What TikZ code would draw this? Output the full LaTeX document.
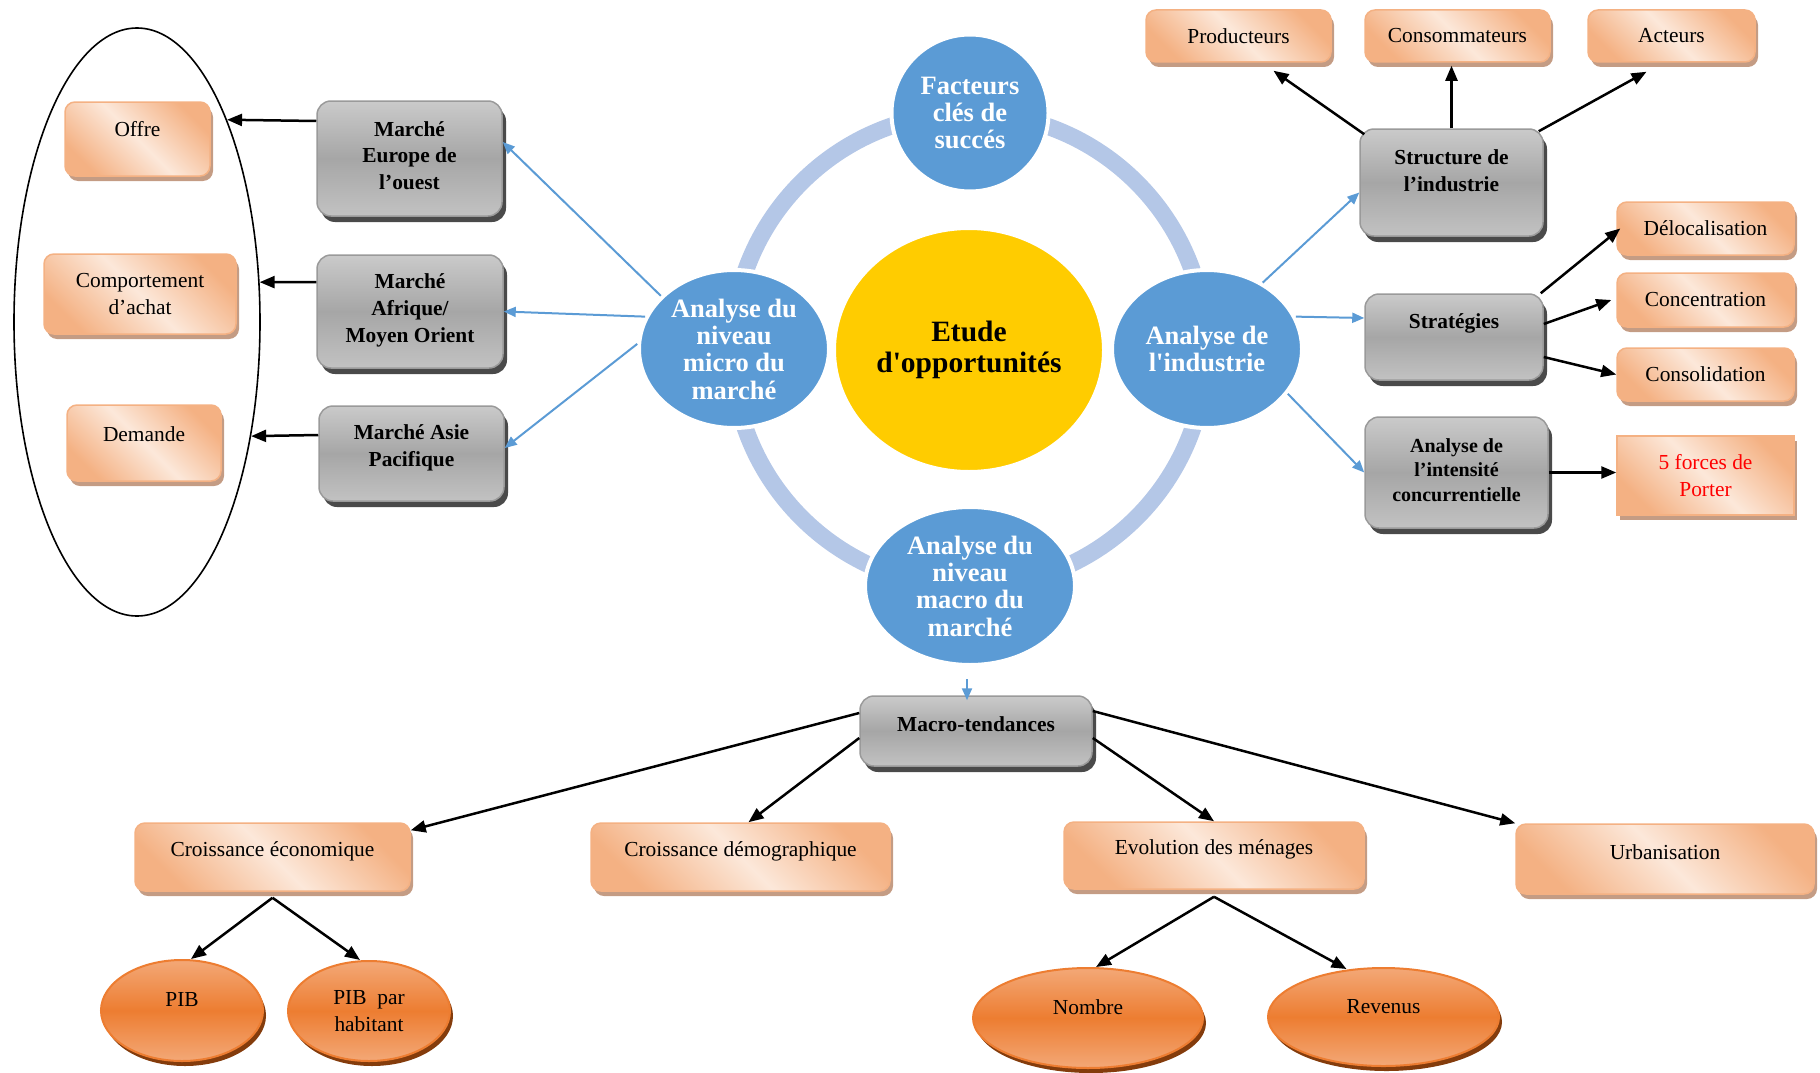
\documentclass[tikz,border=0pt]{standalone}
\usepackage{fontspec}
\setmainfont{Liberation Serif}
\usetikzlibrary{arrows.meta,shapes.geometric,shadows,calc}
\definecolor{oD}{HTML}{F4B183}
\definecolor{oL}{HTML}{FCE8DA}
\definecolor{oS}{HTML}{C49C84}
\definecolor{gT}{HTML}{CACACA}
\definecolor{gM}{HTML}{A6A6A6}
\definecolor{gBd}{HTML}{9A9A9A}
\definecolor{gS}{HTML}{4A4A4A}
\definecolor{bC}{HTML}{5B9BD5}
\definecolor{ringC}{HTML}{B4C7E7}
\definecolor{yC}{HTML}{FFCC00}
\definecolor{ovM}{HTML}{ED7D31}
\definecolor{ovL}{HTML}{F3A877}
\definecolor{ovS}{HTML}{843C0C}
\definecolor{redT}{HTML}{FF0000}
\tikzset{
  obox/.style={rectangle, rounded corners=10pt, draw=oD, line width=1.5pt,
    top color=oD, bottom color=oD, middle color=oL, shading angle=-45, inner sep=0pt,
    general shadow={fill=oS, shadow xshift=3pt, shadow yshift=-5pt}},
  gbox/.style={rectangle, rounded corners=14pt, draw=gBd, line width=1.5pt,
    top color=gT, bottom color=gT!96!black, middle color=gM, inner sep=0pt,
    general shadow={fill=gS, shadow xshift=4pt, shadow yshift=-6pt}},
  oval/.style={ellipse, draw=ovM, line width=2pt, top color=ovL, bottom color=ovL,
    middle color=ovM, inner sep=0pt,
    general shadow={fill=ovS, shadow xshift=3pt, shadow yshift=-5pt}},
  bcirc/.style={ellipse, fill=bC, draw=white, line width=4pt, text=white,
    font=\fontsize{26.5}{27.3}\selectfont\bfseries, align=center, inner sep=0pt},
  otxt/.style={font=\fontsize{21.4}{26.7}\selectfont, align=center, inner sep=0pt},
  gtxt/.style={font=\fontsize{21.4}{26.7}\selectfont\bfseries, align=center, inner sep=0pt},
  blk/.style={line width=2.5pt, -{Triangle[length=15pt,width=12pt]}},
  blu/.style={draw=bC, line width=2pt, -{Triangle[length=12pt,width=10pt]}},
}
\begin{document}
\begin{tikzpicture}[x=1pt,y=-1pt]
\useasboundingbox (0,0) rectangle (1820,1073);

% ---- left ellipse group
\node[ellipse, draw=black, line width=1.6pt, minimum width=246pt, minimum height=588pt, inner sep=0pt] (ell) at (137,322) {};
\node[obox, minimum width=145pt, minimum height=74pt] (offre) at (137.5,139) {};
\node[otxt] (offre-t) at ([yshift=10pt]offre.center) {Offre};
\node[obox, minimum width=192pt, minimum height=80pt] (comp) at (140,294) {};
\node[otxt] (comp-t) at (comp.center) {Comportement\\d’achat};
\node[obox, minimum width=154pt, minimum height=76pt] (dem) at (144,443) {};
\node[otxt] (dem-t) at ([yshift=9pt]dem.center) {Demande};

% ---- gray market boxes
\node[gbox, minimum width=185pt, minimum height=115pt] (eu) at (409.5,158.5) {};
\node[gtxt] (eu-t) at ([yshift=3pt]eu.center) {Marché\\Europe de\\l’ouest};
\node[gbox, minimum width=186pt, minimum height=113pt] (af) at (410,311.5) {};
\node[gtxt] (af-t) at ([yshift=1pt]af.center) {Marché\\Afrique/\\Moyen Orient};
\node[gbox, minimum width=185pt, minimum height=95pt] (as) at (411.5,453.5) {};
\node[gtxt] (as-t) at ([yshift=6pt]as.center) {Marché Asie\\Pacifique};

% ---- central ring and circles
\draw[ringC, line width=17pt] (969pt,-350pt) circle[radius=237pt];
\node[bcirc, minimum width=270pt, minimum height=244pt, fill=yC, text=black,
  font=\fontsize{29.5}{31.3}\selectfont\bfseries] (etude) at (969,350) {Etude\\d\textquotesingle opportunités};
\node[bcirc, minimum width=157pt, minimum height=157pt] (fac) at (970,113) {Facteurs\\clés de\\succés};
\node[bcirc, minimum width=190pt, minimum height=158pt] (micro) at (734,349) {Analyse du\\niveau\\micro du\\marché};
\node[bcirc, minimum width=190pt, minimum height=158pt] (ind) at (1207,349) {Analyse de\\l\textquotesingle industrie};
\node[bcirc, minimum width=210pt, minimum height=158pt] (macro) at (970,586) {Analyse du\\niveau\\macro du\\marché};

% ---- right side
\node[obox, minimum width=185pt, minimum height=52pt] (prod) at (1238.5,36) {};
\node[otxt] (prod-t) at (prod.center) {Producteurs};
\node[obox, minimum width=185pt, minimum height=52pt] (cons) at (1457.5,36) {};
\node[otxt] (cons-t) at (cons.center) {Consommateurs};
\node[obox, minimum width=167pt, minimum height=52pt] (act) at (1671.5,36) {};
\node[otxt] (act-t) at (act.center) {Acteurs};

\node[gbox, minimum width=183pt, minimum height=107pt] (struct) at (1451.5,182.5) {};
\node[gtxt] (struct-t) at ([yshift=11.5pt]struct.center) {Structure de\\l’industrie};
\node[gbox, minimum width=178pt, minimum height=86pt] (strat) at (1454,337) {};
\node[gtxt] (strat-t) at ([yshift=14pt]strat.center) {Stratégies};
\node[gbox, minimum width=183pt, minimum height=111pt] (intens) at (1456.5,472.5) {};
\node[gtxt, font=\fontsize{20}{24.4}\selectfont\bfseries] (intens-t) at ([yshift=2.5pt]intens.center) {Analyse de\\l’intensité\\concurrentielle};

\node[obox, minimum width=177pt, minimum height=53pt] (deloc) at (1705.5,228.5) {};
\node[otxt] (deloc-t) at (deloc.center) {Délocalisation};
\node[obox, minimum width=177pt, minimum height=54pt] (conc) at (1705.5,300) {};
\node[otxt] (conc-t) at (conc.center) {Concentration};
\node[obox, minimum width=177pt, minimum height=53pt] (consol) at (1705.5,374.5) {};
\node[otxt] (consol-t) at (consol.center) {Consolidation};
\node[obox, sharp corners, minimum width=177pt, minimum height=79pt] (porter) at (1705.5,475.5) {};
\node[otxt, text=redT] (porter-t) at (porter.center) {5 forces de\\Porter};

% ---- bottom
\node[gbox, minimum width=232pt, minimum height=70pt] (mt) at (976,731) {};
\node[gtxt] (mt-t) at ([yshift=7pt]mt.center) {Macro-tendances};

\node[obox, minimum width=275pt, minimum height=68pt] (ce) at (272.5,857) {};
\node[otxt] (ce-t) at ([yshift=6pt]ce.center) {Croissance économique};
\node[obox, minimum width=299pt, minimum height=68pt] (cd) at (740.5,857) {};
\node[otxt] (cd-t) at ([yshift=6pt]cd.center) {Croissance démographique};
\node[obox, minimum width=300pt, minimum height=67pt] (em) at (1214,855.5) {};
\node[otxt] (em-t) at ([yshift=6pt]em.center) {Evolution des ménages};
\node[obox, minimum width=298pt, minimum height=70pt] (ur) at (1665,859) {};
\node[otxt] (ur-t) at ([yshift=7pt]ur.center) {Urbanisation};

\node[oval, minimum width=162pt, minimum height=101pt] (pib) at (182,1010.5) {};
\node[otxt] (pib-t) at ([yshift=11pt]pib.center) {PIB};
\node[oval, minimum width=162pt, minimum height=100pt] (pibh) at (369,1011) {};
\node[otxt] (pibh-t) at (pibh.center) {PIB\ \ par\\habitant};
\node[oval, minimum width=230pt, minimum height=100pt] (nom) at (1088,1018) {};
\node[otxt] (nom-t) at ([yshift=10.5pt]nom.center) {Nombre};
\node[oval, minimum width=231pt, minimum height=98pt] (rev) at (1383.5,1017) {};
\node[otxt] (rev-t) at ([yshift=10pt]rev.center) {Revenus};

% ---- connectors: left
\draw[blk] ([yshift=37.5pt]eu.west) -- (ell.66);
\draw[blk] ([yshift=29.5pt]af.west) -- (ell.18);
\draw[blk] ([yshift=18.5pt]as.west) -- (ell.-45);
\draw[blu] (micro.144) -- ([yshift=16.5pt]eu.east);
\draw[blu] (micro.160) -- (af.east);
\draw[blu] (micro.177) -- ([yshift=5.5pt]as.east);

% ---- connectors: right
\draw[blu] (ind.50) -- ([yshift=-10pt]struct.west);
\draw[blu] (ind.20) -- ([yshift=19pt]strat.west);
\draw[blu] (ind.-29) -- (intens.west);
\draw[blk] ([xshift=5pt,yshift=-6pt]struct.north west) -- ([xshift=35pt,yshift=-8pt]prod.south);
\draw[blk] (struct.north) -- ([yshift=-3pt]struct.north |- cons.south);
\draw[blk] ([xshift=-5pt,yshift=-3pt]struct.north east) -- ([xshift=-25pt,yshift=-9pt]act.south);
\draw[blk] ([xshift=-3pt]strat.north east) -- ([xshift=4pt]deloc.west);
\draw[blk] ([yshift=13pt]strat.east) -- ([xshift=-5pt]conc.west);
\draw[blk] ([yshift=-20pt]strat.east) -- (consol.west);
\draw[blk] (intens.east) -- (intens.east -| porter.west);

% ---- connectors: bottom
\draw[blu] ([xshift=-3pt,yshift=-12pt]macro.south) -- ([xshift=-3pt,yshift=-5pt]macro.south |- mt.north);
\draw[blk] ([yshift=18pt]mt.west) -- ([yshift=-8pt]ce.north east);
\draw[blk] ([yshift=-7pt]mt.west) -- ([xshift=8pt]cd.north);
\draw[blk] ([yshift=-7pt]mt.east) -- (em.north);
\draw[blk] ([yshift=20pt]mt.east) -- (ur.north west);
\draw[blk] ([yshift=-6pt]ce.south) -- ([xshift=9pt]pib.north);
\draw[blk] ([yshift=-6pt]ce.south) -- ([xshift=-9pt]pibh.north);
\draw[blk] ([yshift=-7pt]em.south) -- ([xshift=8pt]nom.north);
\draw[blk] ([yshift=-7pt]em.south) -- ([xshift=-37pt,yshift=-2pt]rev.north);
\end{tikzpicture}
\end{document}
